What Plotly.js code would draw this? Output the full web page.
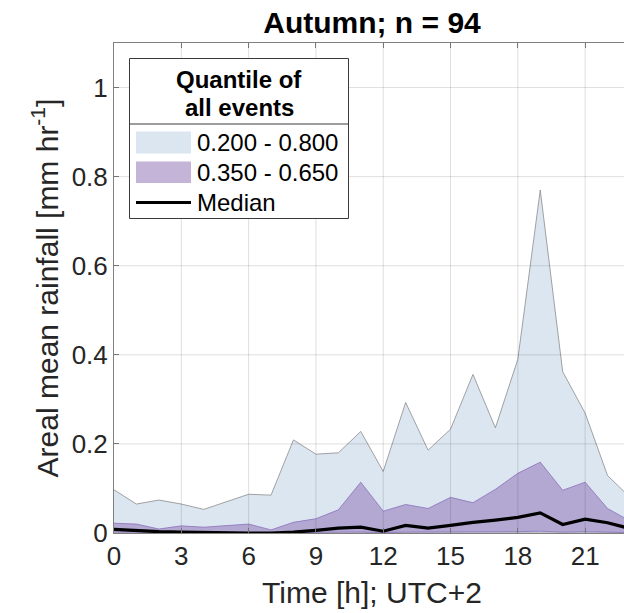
<!DOCTYPE html>
<html>
<head>
<meta charset="utf-8">
<script src="https://cdn.plot.ly/plotly-3.0.1.min.js"></script>
<style>
html, body { margin: 0; padding: 0; overflow: hidden; background: #fff; width: 624px; height: 613px; }
#chart { width: 640px; height: 613px; }
</style>
</head>
<body>
<div id="chart"></div>
<script>
// ---- data ----
const hours = [0,1,2,3,4,5,6,7,8,9,10,11,12,13,14,15,16,17,18,19,20,21,22,23];
const q20 = [0,0,0,0,0,0,0,0,0,0,0,0,0,0,0,0,0,0,0,0,0,0,0,0];
const q80 = [0.097,0.065,0.074,0.065,0.053,0.070,0.087,0.085,0.209,0.177,0.180,0.228,0.138,0.293,0.186,0.233,0.356,0.236,0.390,0.770,0.362,0.269,0.129,0.080];
const q35 = [0.002,0.002,0.001,0.001,0.001,0.001,0.001,0.000,0.001,0.001,0.002,0.002,0.001,0.002,0.002,0.002,0.003,0.003,0.003,0.004,0.002,0.003,0.002,0.001];
const q65 = [0.022,0.020,0.009,0.016,0.013,0.017,0.020,0.007,0.024,0.032,0.052,0.114,0.049,0.064,0.055,0.080,0.068,0.098,0.134,0.159,0.096,0.114,0.055,0.027];
const median = [0.008,0.005,0.003,0.002,0.001,0.001,0.000,0.000,0.002,0.006,0.011,0.013,0.004,0.017,0.011,0.017,0.024,0.029,0.035,0.045,0.019,0.031,0.023,0.010];

const xTickVals = [0,3,6,9,12,15,18,21];
const xTickText = ['0','3','6','9','12','15','18','21'];
const yTickVals = [0,0.2,0.4,0.6,0.8,1];
const yTickText = ['0','0.2','0.4','0.6','0.8','1'];

const chartTitle = 'Autumn; n = 94';
const xTitle = 'Time [h]; UTC+2';
const yTitle = 'Areal mean rainfall [mm hr<sup>-1</sup>]';
const legendTitle = ['Quantile of', 'all events'];
const legendLabels = ['0.200 - 0.800', '0.350 - 0.650', 'Median'];

// ---- styles ----
const blueFill = 'rgb(220,230,241)';
const purpleFill = 'rgba(137,105,177,0.5)';
const purpleEdge = 'rgb(140,112,188)';
const grayEdge = 'rgb(140,140,140)';
const FONT = 'Liberation Sans, Arial, Helvetica, sans-serif';

const traces = [
  {x: hours, y: q20, type: 'scatter', mode: 'lines', line: {color: grayEdge, width: 0.8}, hoverinfo: 'skip', showlegend: false},
  {x: hours, y: q80, type: 'scatter', mode: 'lines', fill: 'tonexty', fillcolor: blueFill, line: {color: grayEdge, width: 0.8}, name: legendLabels[0], showlegend: false},
  {x: hours, y: q35, type: 'scatter', mode: 'lines', line: {color: purpleEdge, width: 0.8}, hoverinfo: 'skip', showlegend: false},
  {x: hours, y: q65, type: 'scatter', mode: 'lines', fill: 'tonexty', fillcolor: purpleFill, line: {color: purpleEdge, width: 0.8}, name: legendLabels[1], showlegend: false},
  {x: hours, y: median, type: 'scatter', mode: 'lines', line: {color: '#000', width: 3.2}, name: legendLabels[2], showlegend: false}
];

// plot-area geometry in pixels (for the hand-built legend box)
const L = 114, R = 10, T = 43, B = 80, W = 640, H = 613;
const pw = W - L - R, ph = H - T - B;
const px = v => (v - L) / pw;          // pixel x -> paper x
const py = v => (H - B - v) / ph;      // pixel y -> paper y

const gridColor = 'rgba(38,38,38,0.15)';
const shapes = [];
xTickVals.filter(v => v > 0).forEach(v => shapes.push({type: 'line', xref: 'x', yref: 'paper', x0: v, x1: v, y0: 0, y1: 1, line: {color: gridColor, width: 1}, layer: 'above'}));
yTickVals.filter(v => v > 0).forEach(v => shapes.push({type: 'line', xref: 'paper', yref: 'y', x0: 0, x1: 1, y0: v, y1: v, line: {color: gridColor, width: 1}, layer: 'above'}));

// legend box
shapes.push({type: 'rect', xref: 'paper', yref: 'paper', x0: px(129.5), x1: px(348.5), y0: py(218.5), y1: py(58.5), fillcolor: '#fff', line: {color: '#3a3a3a', width: 1}, layer: 'above'});
shapes.push({type: 'line', xref: 'paper', yref: 'paper', x0: px(129.5), x1: px(348.5), y0: py(124), y1: py(124), line: {color: '#3a3a3a', width: 1}, layer: 'above'});
shapes.push({type: 'rect', xref: 'paper', yref: 'paper', x0: px(136), x1: px(191), y0: py(153.5), y1: py(131.5), fillcolor: blueFill, line: {width: 0}, layer: 'above'});
shapes.push({type: 'rect', xref: 'paper', yref: 'paper', x0: px(136), x1: px(191), y0: py(183), y1: py(161.5), fillcolor: purpleFill, line: {width: 0}, layer: 'above'});
shapes.push({type: 'line', xref: 'paper', yref: 'paper', x0: px(136), x1: px(191), y0: py(202.5), y1: py(202.5), line: {color: '#000', width: 3.2}, layer: 'above'});

const annotations = [
  {xref: 'paper', yref: 'paper', x: px(239), y: py(79), text: '<b>' + legendTitle[0] + '</b>', showarrow: false, xanchor: 'center', yanchor: 'middle', font: {family: FONT, size: 24, color: '#000'}},
  {xref: 'paper', yref: 'paper', x: px(239), y: py(107), text: '<b>' + legendTitle[1] + '</b>', showarrow: false, xanchor: 'center', yanchor: 'middle', font: {family: FONT, size: 24, color: '#000'}},
  {xref: 'paper', yref: 'paper', x: px(195), y: py(142.5), text: legendLabels[0], showarrow: false, xanchor: 'left', yanchor: 'middle', font: {family: FONT, size: 24, color: '#000'}},
  {xref: 'paper', yref: 'paper', x: px(195), y: py(172), text: legendLabels[1], showarrow: false, xanchor: 'left', yanchor: 'middle', font: {family: FONT, size: 24, color: '#000'}},
  {xref: 'paper', yref: 'paper', x: px(195), y: py(202), text: legendLabels[2], showarrow: false, xanchor: 'left', yanchor: 'middle', font: {family: FONT, size: 24, color: '#000'}}
];

const axisColor = '#808080';
const layout = {
  width: W, height: H,
  margin: {l: L, r: R, t: T, b: B, pad: 0},
  paper_bgcolor: '#fff', plot_bgcolor: '#fff',
  font: {family: FONT, color: '#262626'},
  showlegend: false,
  title: {text: '<b>' + chartTitle + '</b>', font: {family: FONT, size: 30, color: '#000'}, x: 0.5, xref: 'paper', xanchor: 'center', y: 1 - 22 / H, yref: 'container', yanchor: 'middle'},
  xaxis: {
    range: [0, 23], tickmode: 'array', tickvals: xTickVals, ticktext: xTickText,
    ticks: 'inside', ticklen: 5, tickcolor: axisColor, tickwidth: 1,
    showline: true, linecolor: axisColor, linewidth: 1, mirror: 'ticks',
    showgrid: false, zeroline: false,
    tickfont: {family: FONT, size: 26, color: '#262626'},
    title: {text: xTitle, font: {family: FONT, size: 30, color: '#262626'}, standoff: 11},
    automargin: false
  },
  yaxis: {
    range: [0, 1.1], tickmode: 'array', tickvals: yTickVals, ticktext: yTickText,
    ticks: 'inside', ticklen: 5, tickcolor: axisColor, tickwidth: 1,
    showline: true, linecolor: axisColor, linewidth: 1, mirror: 'ticks',
    showgrid: false, zeroline: false,
    tickfont: {family: FONT, size: 26, color: '#262626'},
    title: {text: yTitle, font: {family: FONT, size: 30, color: '#262626'}, standoff: 4},
    automargin: false
  },
  shapes: shapes,
  annotations: annotations
};

Plotly.newPlot('chart', traces, layout, {displayModeBar: false, staticPlot: true});
</script>
</body>
</html>
